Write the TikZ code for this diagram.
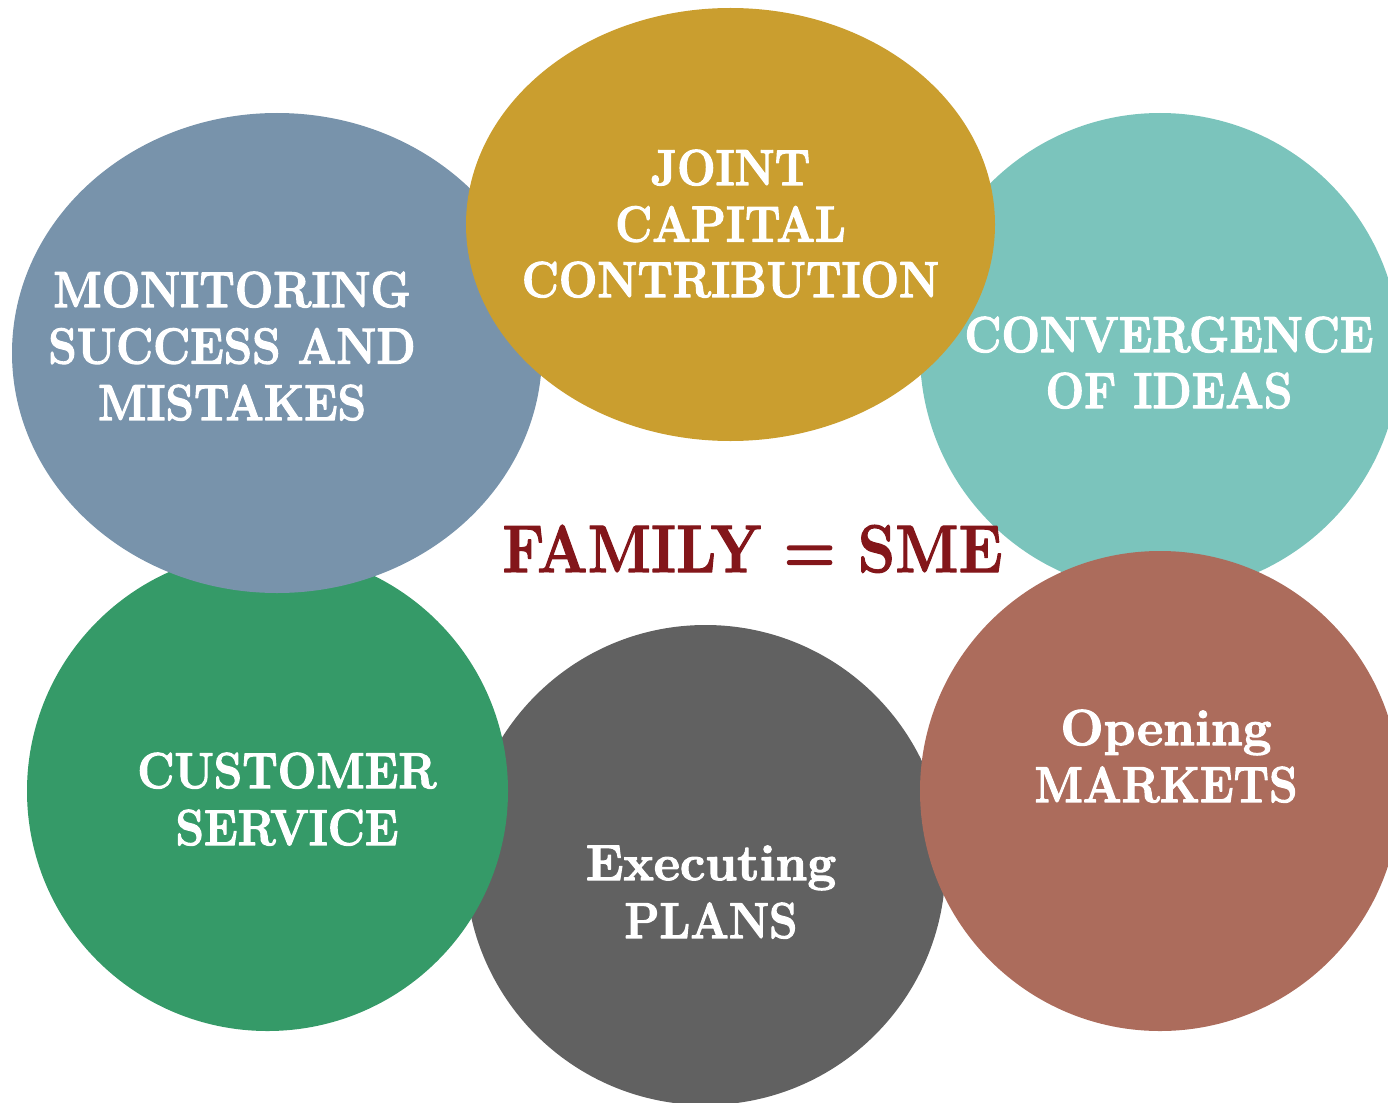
\documentclass[tikz,border=0pt]{standalone}
\usetikzlibrary{shapes.geometric}
\definecolor{cmon}{HTML}{7893AB}
\definecolor{cjoint}{HTML}{CA9E2F}
\definecolor{cconv}{HTML}{7BC4BC}
\definecolor{ccust}{HTML}{359A68}
\definecolor{cexec}{HTML}{616161}
\definecolor{copen}{HTML}{AC6C5C}
\definecolor{ctitle}{HTML}{83161A}
\newcommand{\heavytxt}[1]{\special{pdf:literal direct 2 Tr 1.1 w 1 j}#1\special{pdf:literal direct 0 Tr}}
\tikzset{
  blob/.style={ellipse, draw=none, inner sep=0pt},
  lbl/.style={text=white, anchor=base, inner sep=0pt, yscale=1.11,
    font=\bfseries\fontsize{45.5}{50}\selectfont},
  wide/.style={xscale=1.12},
  ttl/.style={text=ctitle, anchor=base, inner sep=0pt, yscale=1.13,
    font=\bfseries\fontsize{59.5}{64}\selectfont}
}
\begin{document}
\begin{tikzpicture}[x=1pt,y=-1pt]
\useasboundingbox (0,0) rectangle (1388,1102);
% circles, back to front
\node[blob, fill=cexec, minimum width=480pt, minimum height=480pt] (exec) at (705.5,865) {};
\node[blob, fill=ccust, minimum width=481pt, minimum height=480pt] (cust) at (267.5,791) {};
\node[blob, fill=cmon, minimum width=530pt, minimum height=480pt] (mon) at (277,353) {};
\node[blob, fill=cconv, minimum width=480pt, minimum height=480pt] (conv) at (1160,353) {};
\node[blob, fill=cjoint, minimum width=529pt, minimum height=433pt] (joint) at (730.5,224.5) {};
\node[blob, fill=copen, minimum width=480pt, minimum height=480pt] (open) at (1160,791) {};
% labels
\node[lbl] (mon1) at (232,307) {\heavytxt{MONITORING}};
\node[lbl] (mon2) at (232,363.5) {\heavytxt{SUCCESS AND}};
\node[lbl] (mon3) at (232,420) {\heavytxt{MISTAKES}};
\node[lbl] (joint1) at (730.5,185) {\heavytxt{JOINT}};
\node[lbl] (joint2) at (730.5,241.5) {\heavytxt{CAPITAL}};
\node[lbl] (joint3) at (730.5,297) {\heavytxt{CONTRIBUTION}};
\node[lbl] (conv1) at (1169,352) {\heavytxt{CONVERGENCE}};
\node[lbl] (conv2) at (1169,408) {\heavytxt{OF IDEAS}};
\node[lbl] (cust1) at (287,788) {\heavytxt{CUSTOMER}};
\node[lbl] (cust2) at (287,845) {\heavytxt{SERVICE}};
\node[lbl, wide] (exec1) at (711,880) {\heavytxt{Executing}};
\node[lbl] (exec2) at (711,938) {\heavytxt{PLANS}};
\node[lbl, wide] (open1) at (1166,745) {\heavytxt{Opening}};
\node[lbl] (open2) at (1166,802) {\heavytxt{MARKETS}};
\node[ttl] (title) at (752.5,572) {\heavytxt{FAMILY = SME}};
\end{tikzpicture}
\end{document}
